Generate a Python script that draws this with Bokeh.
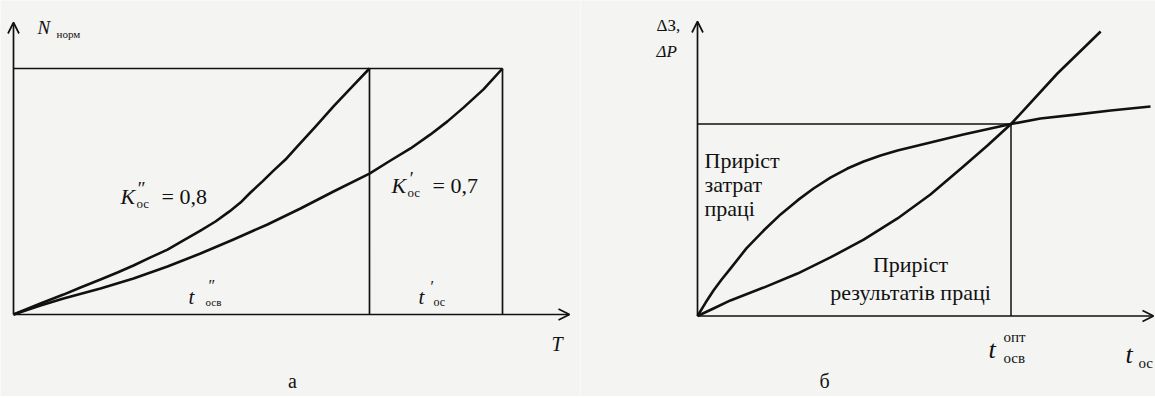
from bokeh.plotting import figure
from bokeh.models import Range1d, Label, Arrow, OpenHead
from bokeh.layouts import row
from bokeh.embed import file_html
from bokeh.resources import INLINE

# ---------------- data: panel "а" ----------------
T_fast = [0, 0.552, 1.022, 1.370, 1.779, 2.127, 2.454, 2.802, 3.149, 3.476, 3.824, 4.131,
          4.417, 4.642, 4.847, 5.092, 5.317, 5.562, 5.787, 6.176, 6.544, 6.912, 7.28]
N_fast = [0, 0.045, 0.081, 0.110, 0.142, 0.171, 0.199, 0.232, 0.264, 0.301, 0.341, 0.378,
          0.419, 0.455, 0.496, 0.541, 0.585, 0.630, 0.679, 0.764, 0.846, 0.923, 1.0]
T_slow = [0, 0.552, 1.022, 1.779, 2.454, 3.149, 3.824, 4.499, 5.194, 5.869, 6.544, 7.28,
          7.710, 8.119, 8.528, 8.875, 9.202, 9.611, 10.0]
N_slow = [0, 0.037, 0.065, 0.106, 0.146, 0.195, 0.248, 0.305, 0.366, 0.431, 0.500, 0.573,
          0.626, 0.675, 0.732, 0.785, 0.841, 0.915, 1.0]
t_osv_fast = 7.28      # t''осв
t_os_slow = 10.0       # t'ос
N_norm = 1.0
K_fast = "0,8"
K_slow = "0,7"

# ---------------- data: panel "б" ----------------
t_b = [0, 0.026, 0.051, 0.077, 0.105, 0.156, 0.211, 0.265, 0.319, 0.370, 0.424, 0.478,
       0.530, 0.584, 0.638, 0.743, 0.848, 1.0, 1.094, 1.206, 1.318, 1.445]
dZ = [0, 0.070, 0.133, 0.190, 0.247, 0.352, 0.445, 0.529, 0.602, 0.664, 0.721, 0.768,
      0.805, 0.836, 0.862, 0.904, 0.945, 1.0, 1.029, 1.049, 1.070, 1.091]
t_r = [0, 0.051, 0.105, 0.211, 0.319, 0.424, 0.530, 0.638, 0.743, 0.848, 0.925, 1.0, 1.148, 1.286]
dP = [0, 0.039, 0.081, 0.148, 0.221, 0.305, 0.398, 0.508, 0.633, 0.779, 0.888, 1.0, 1.263, 1.482]
t_opt = 1.0
level_opt = 1.0

BG = "#f4f4f2"
INK = "#111111"
SERIF = "Liberation Serif, Times New Roman, serif"
H = 396


class Frame:
    """maps page-pixel layout positions to a panel's data coordinates"""
    def __init__(self, left, width, ox, oy, kx, ky):
        self.left, self.width = left, width
        self.ox, self.oy, self.kx, self.ky = ox, oy, kx, ky

    def x(self, sx):
        return (sx - self.ox) / self.kx

    def y(self, sy):
        return (self.oy - sy) / self.ky


def make_fig(fr):
    p = figure(width=fr.width, height=H, output_backend="svg", toolbar_location=None,
               x_range=Range1d(fr.x(fr.left), fr.x(fr.left + fr.width)),
               y_range=Range1d(fr.y(H), fr.y(0)),
               min_border=0, outline_line_color=None,
               background_fill_color=BG, border_fill_color=BG)
    p.xaxis.visible = False
    p.yaxis.visible = False
    p.xgrid.visible = False
    p.ygrid.visible = False
    return p


def lab(p, fr, sx, sy, text, size, style="normal", align="left", baseline="middle"):
    p.add_layout(Label(x=fr.x(sx), y=fr.y(sy), text=text, text_font=SERIF,
                       text_font_size=f"{size}px", text_font_style=style,
                       text_color=INK, text_align=align, text_baseline=baseline))


def arrow(p, x0, y0, x1, y1):
    p.add_layout(Arrow(end=OpenHead(size=11, line_width=1.7, line_color=INK),
                       x_start=x0, y_start=y0, x_end=x1, y_end=y1,
                       line_width=1.7, line_color=INK))


# ---------------- panel а ----------------
fa = Frame(left=0, width=580, ox=13, oy=314, kx=48.9, ky=246)
pa = make_fig(fa)
arrow(pa, 0, 0, 0, fa.y(22))
arrow(pa, 0, 0, fa.x(569), 0)
pa.line([0, t_os_slow], [N_norm, N_norm], line_color=INK, line_width=1.7)
pa.line([t_osv_fast, t_osv_fast], [0, N_norm], line_color=INK, line_width=1.7)
pa.line([t_os_slow, t_os_slow], [0, N_norm], line_color=INK, line_width=1.7)
pa.line(T_fast, N_fast, line_color=INK, line_width=2.6, line_join="round")
pa.line(T_slow, N_slow, line_color=INK, line_width=2.6, line_join="round")

lab(pa, fa, 37, 27, "N", 19, "italic")
lab(pa, fa, 56, 33, "норм", 11)
lab(pa, fa, 120, 196, "K", 22, "italic")
lab(pa, fa, 136, 188, "″", 19, "italic")
lab(pa, fa, 136, 203, "ос", 13)
lab(pa, fa, 161, 196, "= " + K_fast, 22)
lab(pa, fa, 391, 185, "K", 22, "italic")
lab(pa, fa, 408, 178, "′", 19, "italic")
lab(pa, fa, 407, 192, "ос", 13)
lab(pa, fa, 432, 185, "= " + K_slow, 22)
lab(pa, fa, 188, 296, "t", 21, "italic")
lab(pa, fa, 207, 285, "″", 16, "italic")
lab(pa, fa, 205, 301, "осв", 11)
lab(pa, fa, 418, 296, "t", 21, "italic")
lab(pa, fa, 429, 286, "′", 16, "italic")
lab(pa, fa, 433, 301, "ос", 12)
lab(pa, fa, 551, 343, "T", 20, "italic")
lab(pa, fa, 292, 380, "а", 20, align="center")

# ---------------- panel б ----------------
fb = Frame(left=580, width=575, ox=697, oy=315.5, kx=313.5, ky=192)
pb = make_fig(fb)
arrow(pb, 0, 0, 0, fb.y(21))
arrow(pb, 0, 0, fb.x(1153), 0)
pb.line([0, t_opt], [level_opt, level_opt], line_color=INK, line_width=1.5)
pb.line([t_opt, t_opt], [0, level_opt], line_color=INK, line_width=1.5)
pb.line(t_b, dZ, line_color=INK, line_width=2.6, line_join="round")
pb.line(t_r, dP, line_color=INK, line_width=2.6, line_join="round")

lab(pb, fb, 656, 25, "ΔЗ,", 17)
lab(pb, fb, 656, 51, "ΔP", 17, "italic")
lab(pb, fb, 704, 160, "Приріст", 22)
lab(pb, fb, 704, 184, "затрат", 22)
lab(pb, fb, 704, 208, "праці", 22)
lab(pb, fb, 910, 264, "Приріст", 22, align="center")
lab(pb, fb, 910, 292, "результатів праці", 22, align="center")
lab(pb, fb, 988, 349, "t", 26, "italic")
lab(pb, fb, 1003, 336, "опт", 15)
lab(pb, fb, 1003, 357, "осв", 15)
lab(pb, fb, 1125, 354, "t", 26, "italic")
lab(pb, fb, 1138, 362, "ос", 15)
lab(pb, fb, 824, 380, "б", 20, align="center")

layout = row(pa, pb, spacing=0)
open("out.html", "w").write(file_html(layout, INLINE))
